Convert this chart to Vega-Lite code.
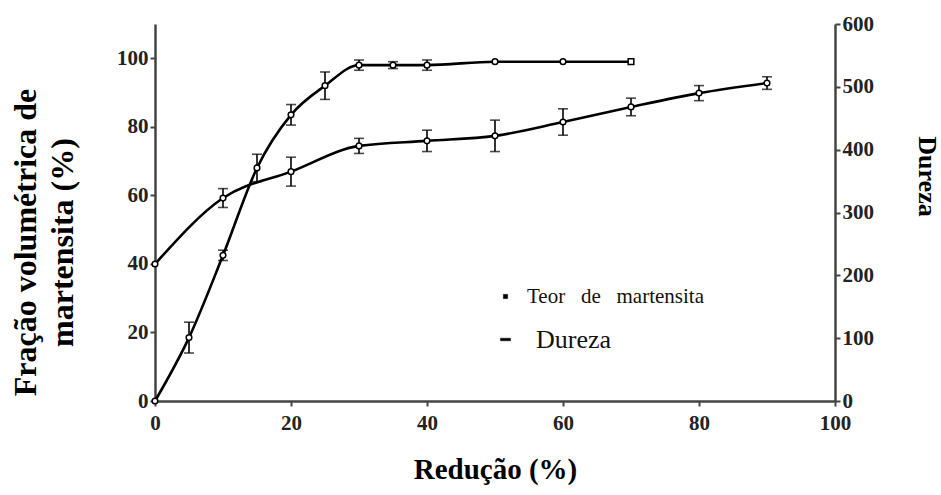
{
  "$schema": "https://vega.github.io/schema/vega-lite/v6.json",
  "width": 680,
  "height": 377,
  "autosize": {"type": "none"},
  "padding": {"left": 155, "top": 24, "right": 106, "bottom": 94},
  "background": "white",
  "datasets": {
    "martensita": [
      {"reducao": 0, "valor": 0, "lo": 0, "hi": 0},
      {"reducao": 5, "valor": 18.5, "lo": 14, "hi": 23},
      {"reducao": 10, "valor": 42.5, "lo": 41, "hi": 44},
      {"reducao": 15, "valor": 68, "lo": 64, "hi": 72},
      {"reducao": 20, "valor": 83.5, "lo": 80.5, "hi": 86.5},
      {"reducao": 25, "valor": 92, "lo": 88, "hi": 96},
      {"reducao": 30, "valor": 98, "lo": 96.5, "hi": 99.5},
      {"reducao": 35, "valor": 98, "lo": 97, "hi": 99},
      {"reducao": 40, "valor": 98, "lo": 96.5, "hi": 99.5},
      {"reducao": 50, "valor": 99, "lo": 99, "hi": 99},
      {"reducao": 60, "valor": 99, "lo": 99, "hi": 99},
      {"reducao": 70, "valor": 99, "lo": 99, "hi": 99}
    ],
    "dureza": [
      {"reducao": 0, "valor": 218, "lo": 218, "hi": 218},
      {"reducao": 10, "valor": 323, "lo": 308, "hi": 338},
      {"reducao": 20, "valor": 365, "lo": 342, "hi": 388},
      {"reducao": 30, "valor": 406, "lo": 394, "hi": 418},
      {"reducao": 40, "valor": 414, "lo": 397, "hi": 431},
      {"reducao": 50, "valor": 422, "lo": 397, "hi": 447},
      {"reducao": 60, "valor": 444, "lo": 423, "hi": 465},
      {"reducao": 70, "valor": 468, "lo": 454, "hi": 482},
      {"reducao": 80, "valor": 490, "lo": 478, "hi": 502},
      {"reducao": 90, "valor": 506, "lo": 496, "hi": 516}
    ]
  },
  "encoding": {
    "x": {
      "field": "reducao",
      "type": "quantitative",
      "scale": {"domain": [0, 100], "nice": false},
      "axis": {
        "title": "Redução (%)",
        "values": [0, 20, 40, 60, 80, 100],
        "labelFlush": false,
        "titleFontSize": 29,
        "titlePadding": 22,
        "labelPadding": 6
      }
    }
  },
  "layer": [
    {
      "data": {"name": "martensita"},
      "layer": [
        {
          "mark": {"type": "line", "color": "black", "strokeWidth": 2.6, "interpolate": "monotone"},
          "encoding": {
            "y": {
              "field": "valor",
              "type": "quantitative",
              "scale": {"domain": [0, 110], "nice": false},
              "axis": {
                "title": ["Fração volumétrica de", "martensita (%)"],
                "values": [0, 20, 40, 60, 80, 100],
                "orient": "left",
                "titleFontSize": 32,
                "titleLineHeight": 37,
                "titlePadding": 37,
                "titleY": 218
              }
            },
            "color": {
              "datum": "Teor de martensita",
              "legend": {
                "labelLimit": 400,
                "labelFont": "Liberation Serif",
                "labelExpr": "datum.value === 'Dureza' ? 'Dureza' : 'Teor\u00a0\u00a0\u00a0de\u00a0\u00a0\u00a0martensita'",
                "encode": {
                  "symbols": {
                    "update": {
                      "shape": {"signal": "datum.value === 'Dureza' ? 'M-1,-0.25H1V0.25H-1Z' : 'square'"},
                      "size": {"signal": "datum.value === 'Dureza' ? 100 : 18"},
                      "fill": {"value": "black"},
                      "stroke": {"value": "black"},
                      "strokeWidth": {"value": 0.5}
                    }
                  },
                  "labels": {
                    "update": {
                      "font": {"value": "Liberation Serif"},
                      "fontSize": {"signal": "datum.value === 'Dureza' ? 26 : 21"},
                      "dx": {"signal": "datum.value === 'Dureza' ? 9 : 0"}
                    }
                  }
                }
              }
            }
          }
        },
        {
          "transform": [{"filter": "datum.lo != datum.hi"}],
          "mark": {"type": "errorbar", "color": "black", "thickness": 1.6, "ticks": {"size": 10, "thickness": 1.6}},
          "encoding": {
            "y": {"field": "lo", "type": "quantitative", "title": ["Fração volumétrica de", "martensita (%)"]},
            "y2": {"field": "hi"}
          }
        },
        {
          "mark": {"type": "point", "filled": true, "fill": "white", "stroke": "black", "strokeWidth": 1.5, "size": 32, "opacity": 1},
          "encoding": {
            "y": {"field": "valor", "type": "quantitative", "title": ["Fração volumétrica de", "martensita (%)"]},
            "shape": {"condition": {"test": "datum.reducao === 70", "value": "square"}, "value": "circle"}
          }
        }
      ]
    },
    {
      "data": {"name": "dureza"},
      "layer": [
        {
          "mark": {"type": "line", "color": "black", "strokeWidth": 2.6, "interpolate": "monotone"},
          "encoding": {
            "y": {
              "field": "valor",
              "type": "quantitative",
              "scale": {"domain": [0, 600], "nice": false},
              "axis": {
                "title": "Dureza",
                "orient": "right",
                "values": [0, 100, 200, 300, 400, 500, 600],
                "titleFontSize": 26,
                "titlePadding": 40,
                "titleY": 152
              }
            },
            "color": {"datum": "Dureza"}
          }
        },
        {
          "transform": [{"filter": "datum.lo != datum.hi"}],
          "mark": {"type": "errorbar", "color": "black", "thickness": 1.6, "ticks": {"size": 10, "thickness": 1.6}},
          "encoding": {
            "y": {"field": "lo", "type": "quantitative", "title": "Dureza"},
            "y2": {"field": "hi"}
          }
        },
        {
          "mark": {"type": "point", "shape": "circle", "filled": true, "fill": "white", "stroke": "black", "strokeWidth": 1.5, "size": 32, "opacity": 1},
          "encoding": {
            "y": {"field": "valor", "type": "quantitative", "title": "Dureza"}
          }
        }
      ]
    }
  ],
  "resolve": {"scale": {"y": "independent"}},
  "config": {
    "view": {"stroke": null},
    "font": "Liberation Serif",
    "axis": {
      "grid": false,
      "domainColor": "#444",
      "domainWidth": 2.5,
      "tickColor": "#444",
      "tickWidth": 2,
      "tickSize": 5,
      "labelFont": "Liberation Serif",
      "labelFontWeight": "bold",
      "labelFontSize": 21,
      "labelColor": "#222",
      "titleFont": "Liberation Serif",
      "titleFontWeight": "bold",
      "titleColor": "black"
    },
    "legend": {
      "orient": "none",
      "legendX": 340,
      "legendY": 262,
      "title": null,
      "labelFont": "Liberation Serif",
      "labelColor": "#111",
      "rowPadding": 19,
      "symbolOffset": 0,
      "labelOffset": 11
    },
    "range": {"category": ["black", "black"]}
  }
}
